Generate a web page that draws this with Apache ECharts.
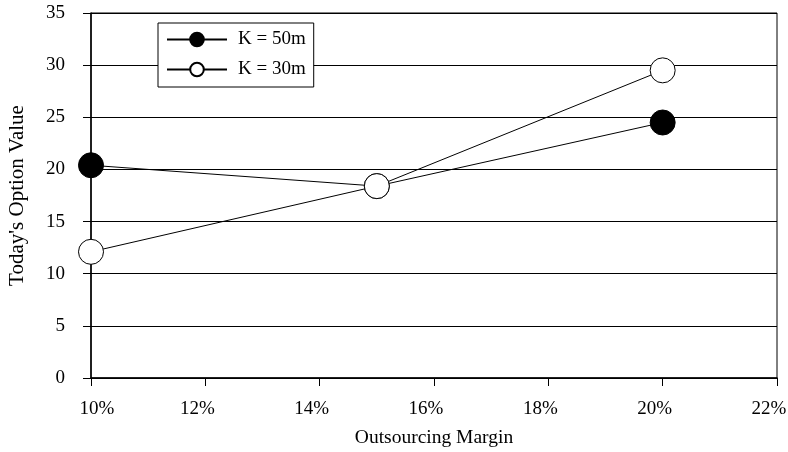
<!DOCTYPE html>
<html>
<head>
<meta charset="utf-8">
<script src="https://cdn.jsdelivr.net/npm/echarts@6/dist/echarts.min.js"></script>
<style>html,body{margin:0;padding:0;background:#fff;}#c{width:788px;height:452px;}</style>
</head>
<body>
<div id="c"></div>
<script>
var margins = [10, 15, 20];
var k50 = [20.4, 18.4, 24.5];
var k30 = [12.1, 18.4, 29.5];
var seriesNames = ['K = 50m', 'K = 30m'];
var xTitle = 'Outsourcing Margin';
var yTitle = "Today's Option Value";

var font = 'Liberation Serif';
var fs = 19;
var chart = echarts.init(document.getElementById('c'));
function pairs(vals) { return margins.map(function (m, i) { return [m, vals[i]]; }); }
chart.setOption({
  animation: false,
  backgroundColor: '#fff',
  textStyle: { fontFamily: font, color: '#000' },
  grid: { left: 91, right: 11, top: 13, bottom: 74, show: true, borderColor: '#000', borderWidth: 1,
          containLabel: false, outerBoundsMode: 'none' },
  legend: {
    left: 158, top: 23, orient: 'vertical',
    backgroundColor: '#fff', borderColor: '#000', borderWidth: 1,
    padding: [7, 8, 8, 8], itemGap: 11, itemWidth: 60, itemHeight: 17,
    textStyle: { fontFamily: font, fontSize: fs, color: '#000', padding: [0, 0, 0, 6] },
    data: seriesNames
  },
  xAxis: {
    type: 'value', min: 10, max: 22, interval: 2,
    name: xTitle, nameLocation: 'middle', nameGap: 50,
    nameTextStyle: { fontFamily: font, fontSize: 19.5, color: '#000' },
    axisLine: { lineStyle: { color: '#000', width: 1.5 } },
    axisTick: { show: true, length: 8, lineStyle: { color: '#000' } },
    axisLabel: {
      margin: 22, fontFamily: font, fontSize: fs, color: '#000',
      formatter: function (v) { return v === 10 ? '{f|' + v + '%}' : '{n|' + v + '%}'; },
      rich: {
        f: { fontFamily: font, fontSize: fs, color: '#000', padding: [0, 0, 0, 12] },
        n: { fontFamily: font, fontSize: fs, color: '#000', padding: [0, 16, 0, 0] }
      }
    },
    splitLine: { show: false }
  },
  yAxis: {
    type: 'value', min: 0, max: 35, interval: 5,
    name: yTitle, nameLocation: 'middle', nameGap: 63,
    nameTextStyle: { fontFamily: font, fontSize: 21, color: '#000' },
    axisLine: { show: true, lineStyle: { color: '#000', width: 1.5 } },
    axisTick: { show: true, length: 8, lineStyle: { color: '#000' } },
    axisLabel: { margin: 26, fontFamily: font, fontSize: fs, color: '#000' },
    splitLine: { show: true, lineStyle: { color: '#000', width: 1 } }
  },
  series: [
    {
      name: seriesNames[0], type: 'line', data: pairs(k50),
      symbol: 'circle', symbolSize: 25,
      lineStyle: { color: '#000', width: 1 },
      itemStyle: { color: '#000', borderColor: '#000', borderWidth: 1 }
    },
    {
      name: seriesNames[1], type: 'line', data: pairs(k30),
      symbol: 'circle', symbolSize: 25,
      lineStyle: { color: '#000', width: 1 },
      itemStyle: { color: '#fff', borderColor: '#000', borderWidth: 1 }
    }
  ]
});
</script>
</body>
</html>
